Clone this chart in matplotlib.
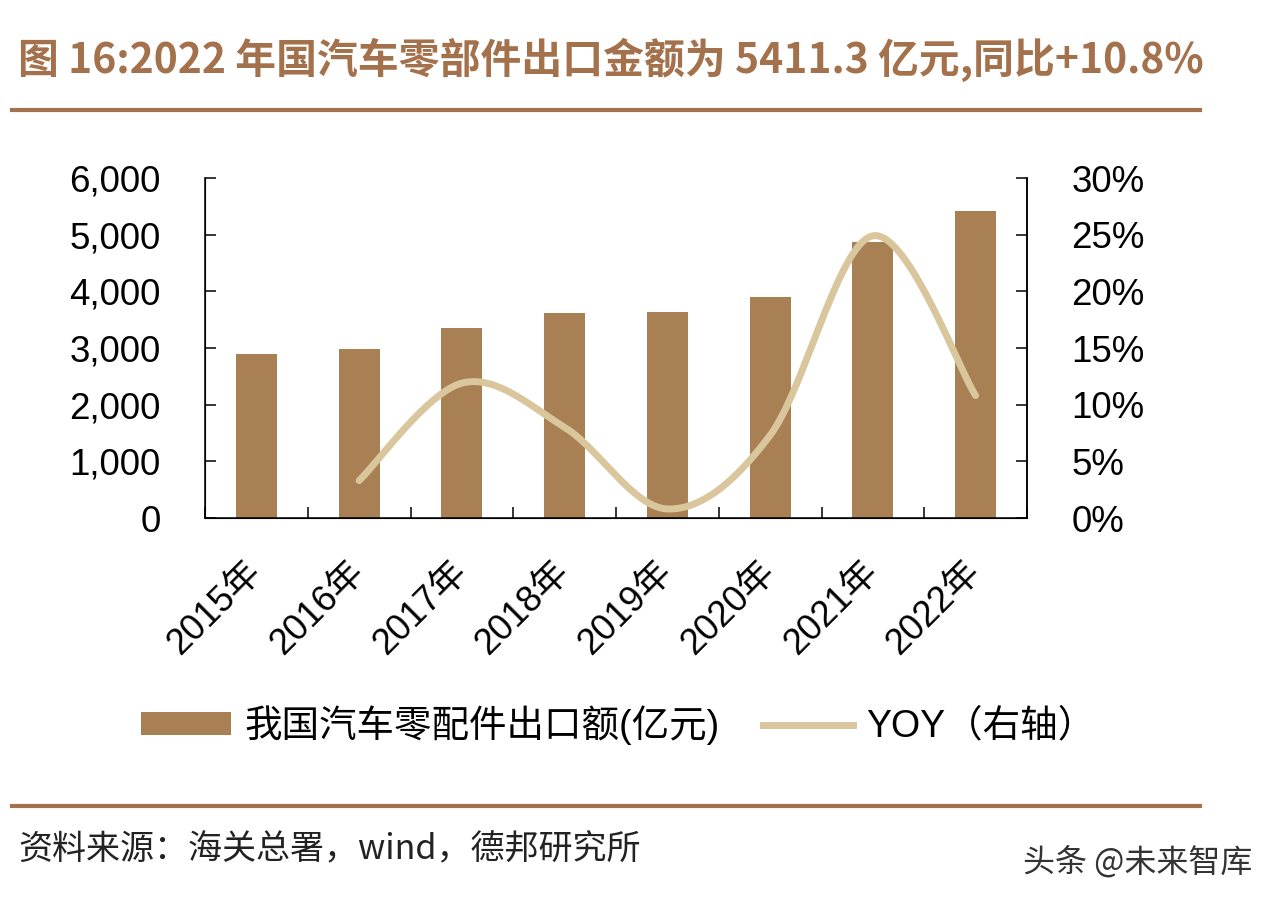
import numpy as np
import matplotlib
matplotlib.use('Agg')
import matplotlib.pyplot as plt
from matplotlib.lines import Line2D
from matplotlib.patches import Patch
from matplotlib.ticker import FuncFormatter, FixedLocator
from matplotlib.transforms import ScaledTranslation, blended_transform_factory

plt.rcParams['font.family'] = ['Liberation Sans', 'Noto Sans CJK SC', 'DejaVu Sans']

# 数据
years = ['2015年', '2016年', '2017年', '2018年', '2019年', '2020年', '2021年', '2022年']
export_value = [2894, 2990, 3345, 3612, 3641, 3906, 4877, 5411.3]   # 亿元
yoy_years = ['2016年', '2017年', '2018年', '2019年', '2020年', '2021年', '2022年']
yoy = [3.3, 11.9, 8.0, 0.8, 7.3, 24.9, 10.8]                       # %

bar_color = '#A98053'
line_color = '#D9C69C'
brown = '#A3714B'


def smooth(x, y, n=40):
    # Catmull-Rom 平滑, 类似 Excel 的平滑线
    x = np.asarray(x, float)
    y = np.asarray(y, float)
    px = np.concatenate([[x[0]], x, [x[-1]]])
    py = np.concatenate([[y[0]], y, [y[-1]]])
    xs, ys = [], []
    t = np.linspace(0, 1, n)
    for i in range(1, len(px) - 2):
        p0, p1, p2, p3 = (np.array([px[j], py[j]]) for j in range(i - 1, i + 3))
        c1 = p1 + (p2 - p0) / 6
        c2 = p2 - (p3 - p1) / 6
        b = ((1 - t) ** 3)[:, None] * p1 + (3 * (1 - t) ** 2 * t)[:, None] * c1 \
            + (3 * (1 - t) * t ** 2)[:, None] * c2 + (t ** 3)[:, None] * p2
        xs.extend(b[:, 0])
        ys.extend(b[:, 1])
    return np.array(xs), np.array(ys)


fig = plt.figure(figsize=(12.78, 9.06), dpi=100)
ax = fig.add_axes([205 / 1278, 1 - 518 / 906, (1027 - 205) / 1278, 340 / 906])

x = np.arange(len(years))
ax.bar(x, export_value, width=0.4, color=bar_color, zorder=2)
ax.set_xlim(-0.5, len(years) - 0.5)
ax.set_ylim(0, 6000)
ax.set_yticks(np.arange(0, 6001, 1000))
ax.yaxis.set_major_formatter(FuncFormatter(lambda v, p: f'{int(v):,}'))
ax.set_xticks(x)
ax.set_xticklabels([])
ax.xaxis.set_minor_locator(FixedLocator(np.arange(-0.5, len(years), 1.0)))
ax.tick_params(axis='x', which='major', length=0)
ax.tick_params(axis='x', which='minor', direction='in', length=8, width=1.1)
ax.tick_params(axis='y', direction='in', length=8, width=1.1, pad=32, labelsize=26.5)
ax.spines['top'].set_visible(False)
for s in ['left', 'bottom', 'right']:
    ax.spines[s].set_linewidth(1.1)

# x 轴标签 (45 度)
trans = blended_transform_factory(ax.transData, ax.transAxes) + \
    ScaledTranslation(12 / 100, -36 / 100, fig.dpi_scale_trans)
for i, lab in enumerate(years):
    ax.text(x[i], 0, lab, transform=trans, rotation=45, ha='right', va='top',
            fontsize=26)

ax2 = ax.twinx()
xi = [years.index(y) for y in yoy_years]
sx, sy = smooth(xi, yoy)
ax2.plot(sx, sy, color=line_color, lw=5, solid_capstyle='round', zorder=3)
ax2.set_ylim(0, 30)
ax2.set_yticks(np.arange(0, 31, 5))
ax2.yaxis.set_major_formatter(FuncFormatter(lambda v, p: f'{int(v)}%'))
ax2.tick_params(axis='y', direction='in', length=8, width=1.1, pad=32, labelsize=26.5)
ax2.spines['top'].set_visible(False)
ax2.spines['right'].set_linewidth(1.1)

# 标题
fig.text(18 / 1278, 1 - 60 / 906,
         '图 16:2022 年国汽车零部件出口金额为 5411.3 亿元,同比+10.8%',
         fontsize=29.4, fontweight='bold', color=brown, va='center', ha='left',
         family=['Noto Sans CJK SC'])
fig.add_artist(Line2D([12 / 1278, 1200 / 1278], [1 - 110 / 906] * 2,
                      transform=fig.transFigure, color=brown, lw=3))

# 图例
handles = [Patch(facecolor=bar_color, edgecolor='none'),
           Line2D([0], [0], color=line_color, lw=5)]
labels = ['我国汽车零配件出口额(亿元)', 'YOY（右轴）']
fig.legend(handles, labels, loc='center', bbox_to_anchor=(618 / 1278, 1 - 725 / 906),
           ncol=2, frameon=False, handlelength=2.4, handleheight=0.55,
           handletextpad=0.35, columnspacing=1.15,
           prop={'family': ['Liberation Sans', 'Noto Sans CJK SC'], 'size': 27})

# 底部
fig.add_artist(Line2D([12 / 1278, 1200 / 1278], [1 - 806 / 906] * 2,
                      transform=fig.transFigure, color=brown, lw=3))
fig.text(18 / 1278, 1 - 850 / 906, '资料来源：海关总署，wind，德邦研究所',
         fontsize=24.5, color='#222222', va='center', ha='left',
         family=['Noto Sans CJK SC'])
fig.text(1252 / 1278, 1 - 862 / 906, '头条 @未来智库',
         fontsize=23, color='#333333', va='center', ha='right',
         family=['Noto Sans CJK SC'])

fig.savefig('out.png', dpi=100)
